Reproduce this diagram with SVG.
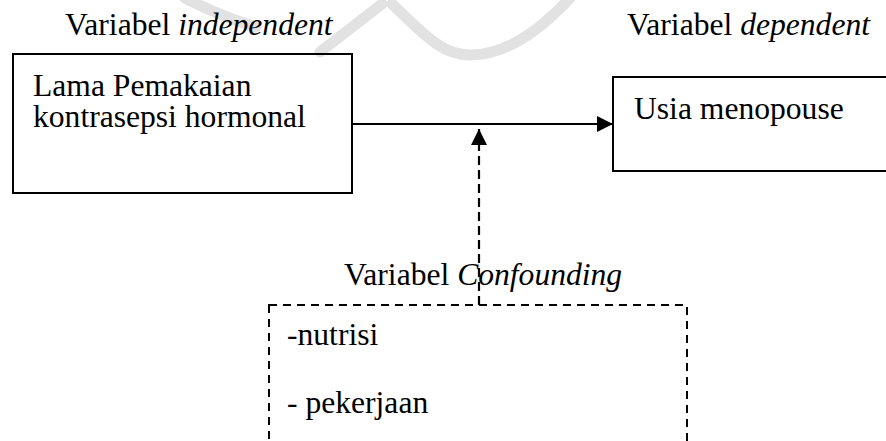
<svg xmlns="http://www.w3.org/2000/svg" width="886" height="441" viewBox="0 0 886 441">
<defs>
<style>
.t{font-family:"Liberation Serif","Times New Roman",serif;font-size:31.6px;fill:#000}
.i{font-style:italic}
.box{fill:none;stroke:#000;stroke-width:2}
.dbox{fill:none;stroke:#000;stroke-width:2;stroke-dasharray:8 6}
.wm{fill:none;stroke:#e2e2e2;stroke-width:11;stroke-linecap:round}
</style>
<marker id="ah" viewBox="0 0 16 16" refX="16" refY="8" markerWidth="16" markerHeight="16" markerUnits="userSpaceOnUse" orient="auto">
<path d="M0,0 L16,8 L0,16 Z" fill="#000"/>
</marker>
</defs>
<rect width="886" height="441" fill="#fff"/>
<g id="watermark">
<path class="wm" d="M185,-2 Q220,16 256,27"/>
<path class="wm" d="M320,52 L382,4"/>
<path class="wm" d="M392,4 C420,30 440,55 470,55 C510,55 545,25 570,-2"/>
</g>
<g id="label-independent"><text class="t" x="65" y="35">Variabel <tspan class="i">independent</tspan></text></g>
<g id="label-dependent"><text class="t" x="627" y="35">Variabel <tspan class="i">dependent</tspan></text></g>
<g id="node-lama">
<rect class="box" x="13" y="54" width="339" height="139"/>
<text class="t" x="33" y="96">Lama Pemakaian</text>
<text class="t" x="33" y="127">kontrasepsi hormonal</text>
</g>
<g id="node-usia">
<rect class="box" x="613" y="77" width="290" height="94"/>
<text class="t" x="634" y="119">Usia menopouse</text>
</g>
<g id="node-confounding">
<text class="t" x="344" y="285">Variabel <tspan class="i">Confounding</tspan></text>
<rect class="dbox" x="269" y="305" width="418" height="160"/>
<text class="t" x="287" y="345">-nutrisi</text>
<text class="t" x="287" y="413">- pekerjaan</text>
</g>
<g id="connectors">
<line x1="352" y1="124" x2="613" y2="124" stroke="#000" stroke-width="2" marker-end="url(#ah)"/>
<line x1="479" y1="305" x2="479" y2="129" stroke="#000" stroke-width="2.2" stroke-dasharray="9 5" marker-end="url(#ah)"/>
</g>
</svg>
